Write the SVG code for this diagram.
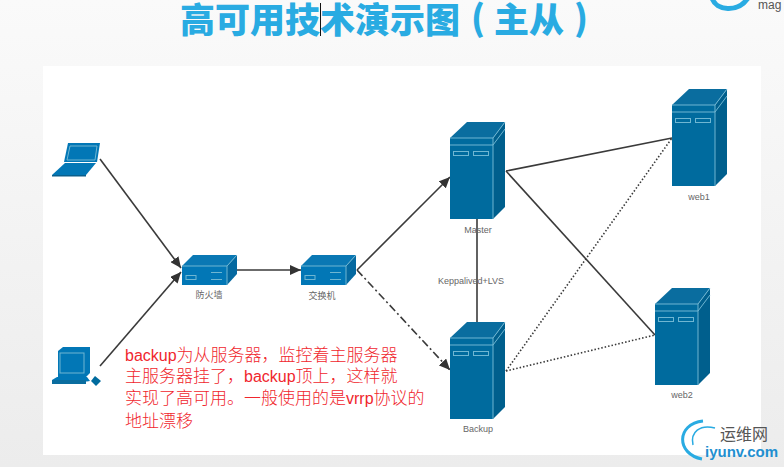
<svg xmlns="http://www.w3.org/2000/svg" width="784" height="467" viewBox="0 0 784 467">
<style>
.lb{font-family:"Liberation Sans","Noto Sans CJK SC",sans-serif;font-size:9px;fill:#666;text-anchor:middle}
.red{font-family:"Noto Sans CJK SC",sans-serif;font-size:17px;font-weight:300;fill:#f0262d}
.la{font-family:"Liberation Sans",sans-serif;font-size:16px}
.ti{font-family:"Noto Sans CJK SC",sans-serif;font-weight:900;font-size:35px;fill:#29abe2}
.c{fill:none;stroke:#3a3a3a;stroke-width:1.6}
.f{fill:#006b9e}.t{fill:#0a6d9f}.s{fill:#005f8d}
.e{fill:none;stroke:#6fb6d2;stroke-width:1}
.bf{fill:#0277b6}.bt{fill:#0a78b4}.bs{fill:#0569a0}
</style>
<defs>
<linearGradient id="bg" x1="0" y1="0" x2="0" y2="1"><stop offset="0" stop-color="#fafafa"/><stop offset="1" stop-color="#ececec"/></linearGradient>
<marker id="ar" markerUnits="userSpaceOnUse" markerWidth="12" markerHeight="10" refX="11" refY="5" orient="auto"><path d="M0 0L11 5L0 10Z" fill="#333"/></marker>
<g id="server">
<path class="t" d="M0 16L17 0H55L43 16Z"/>
<path class="s" d="M43 16L55 0V85L43 97Z"/>
<rect class="f" x="0" y="16" width="43" height="81"/>
<path class="e" d="M0 16H43V97M0 23H43M43 16L55 0M43 23L55 7"/>
<rect class="e" x="3.500" y="29.500" width="15" height="4"/>
<rect class="e" x="23.500" y="29.500" width="15" height="4"/>
</g>
<g id="box">
<path class="bt" d="M0 11L11 0H55L45 11Z"/>
<path class="bs" d="M45 11L55 0V19L45 30Z"/>
<rect class="bf" x="0" y="11" width="45" height="19"/>
<path class="e" d="M0 11H45V30M45 11L55 0"/>
<rect class="e" x="4" y="20.500" width="10" height="4"/>
<path class="e" d="M29 17.500H40M29 24.500H40"/>
</g>
</defs>
<rect id="slide" width="784" height="467" fill="url(#bg)"/>
<rect id="panel" x="43" y="66" width="718" height="389" fill="#fff"/>
<g id="title">
<text class="ti" x="180" y="33">高可用技术演示图</text>
<text class="ti" x="471" y="31">(</text>
<text class="ti" x="494" y="33">主从</text>
<text class="ti" x="574" y="31">)</text>
</g>
<path d="M320.500 3V36" stroke="#111" stroke-width="1"/>
<g id="logo-top">
<path d="M712 -2C716 11 738 13 748 -2" fill="none" stroke="#29abe2" stroke-width="5"/>
<text x="758" y="9" font-family="'Liberation Sans',sans-serif" font-size="12" fill="#555">mag</text>
</g>
<g id="connectors">
<path class="c" d="M100 159L181 268" marker-end="url(#ar)"/>
<path class="c" d="M100 366L181 272" marker-end="url(#ar)"/>
<path class="c" d="M237 270H301" marker-end="url(#ar)"/>
<path class="c" d="M357 270L450 177" marker-end="url(#ar)"/>
<path class="c" d="M357 270L450 370" stroke-dasharray="8 3 2 3" marker-end="url(#ar)"/>
<path class="c" d="M477 219V322"/>
<path class="c" d="M506 171L672 138"/>
<path class="c" d="M506 171L655 335"/>
<path class="c" d="M506 371L672 138" stroke-dasharray="1.500 2"/>
<path class="c" d="M506 371L655 335" stroke-dasharray="1.500 2"/>
</g>
<g id="laptop">
<path class="bf" d="M68 143H100L97 162H64Z"/>
<path class="e" d="M70 146H97L95 160H67Z" stroke-width=".7"/>
<path class="bf" d="M65 163H96L86 175H52Z"/>
<path d="M52 175H86V176.500H52Z" fill="#0a5f8c"/>
</g>
<g id="desktop">
<path class="bf" d="M58 351L63 347H90V373L86 377H58Z"/>
<rect class="e" x="60" y="353" width="24" height="20" stroke-width=".8"/>
<path class="bf" d="M57 377H87L90 381L87 381.500H57L52 380Z"/>
<path d="M52 380H86V384H52Z" fill="#0a6d9f"/>
<path d="M95 376L101 381L96 386L91 381Z" fill="#006b9e"/>
</g>
<g id="firewall"><use href="#box" x="182" y="255"/><text class="lb" x="209" y="298">防火墙</text></g>
<g id="switch"><use href="#box" x="301" y="255"/><text class="lb" x="322" y="299">交换机</text></g>
<g id="master"><use href="#server" x="450" y="122"/><text class="lb" x="478" y="233">Master</text></g>
<g id="backup"><use href="#server" x="450" y="322"/><text class="lb" x="478" y="432">Backup</text></g>
<g id="web1"><use href="#server" x="672" y="89"/><text class="lb" x="699" y="200">web1</text></g>
<g id="web2"><use href="#server" x="655" y="288"/><text class="lb" x="682" y="398">web2</text></g>
<text class="lb" x="471" y="284">Keppalived+LVS</text>
<g id="note">
<text class="red" x="125" y="361"><tspan class="la">backup</tspan>为从服务器，监控着主服务器</text>
<text class="red" x="125" y="382">主服务器挂了，<tspan class="la">backup</tspan>顶上，这样就</text>
<text class="red" x="125" y="404">实现了高可用。一般使用的是<tspan class="la">vrrp</tspan>协议的</text>
<text class="red" x="125" y="427">地址漂移</text>
</g>
<g id="logo-bottom">
<path d="M703 421C676 424 676 454 702 459" fill="none" stroke="#29abe2" stroke-width="3"/>
<path d="M715 428C700 424 690 432 693 445" fill="none" stroke="#29abe2" stroke-width="1.500"/>
<text x="720" y="440" font-family="'Noto Sans CJK SC',sans-serif" font-size="16" fill="#555">运维网</text>
<text x="705" y="457" font-family="'Liberation Sans',sans-serif" font-weight="700" font-size="15" fill="#1f8fd0">iyunv.com</text>
</g>
</svg>
